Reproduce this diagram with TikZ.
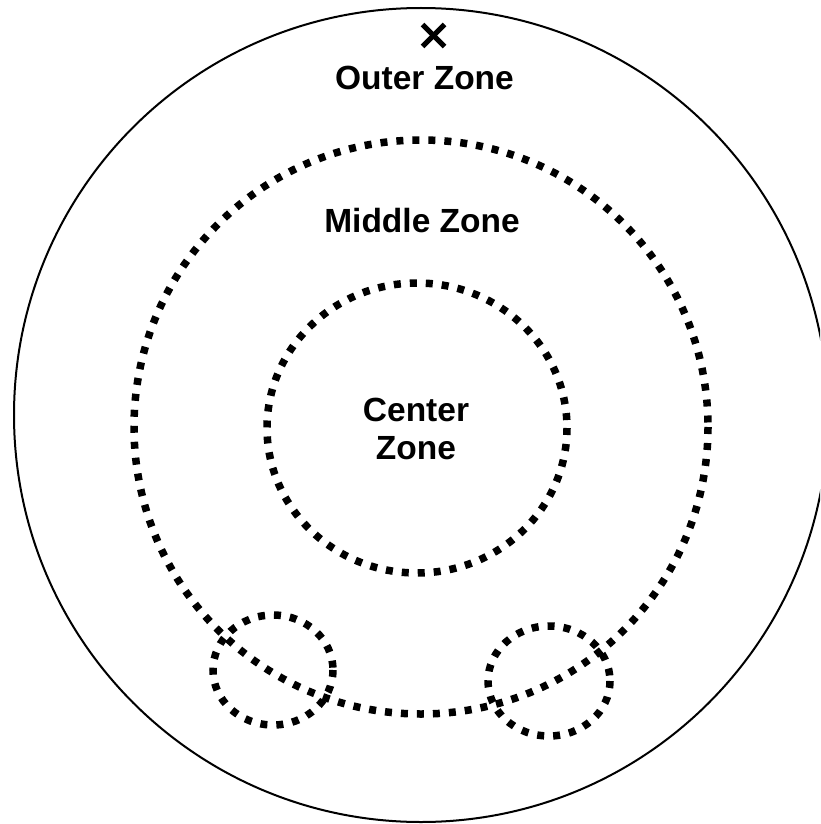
\documentclass[tikz,border=0pt]{standalone}
\usepackage{fontspec}
\setmainfont{Liberation Sans}
\begin{document}
\begin{tikzpicture}[x=1pt,y=-1pt,
  outerline/.style={line width=2pt},
  zonedots/.style={line width=7.5pt, dash pattern=on 7pt off 9pt},
  zonelabel/.style={font=\bfseries\fontsize{33.5}{38}\selectfont, inner sep=0pt, align=center},
  crossmark/.style={line width=5pt}]
\useasboundingbox (0,0) rectangle (820,824);
\clip (0,0) rectangle (820,824);
% outer zone
\draw[outerline] (421,415) circle[radius=407];
% middle zone
\draw[zonedots] (421,427) circle[radius=287];
% center zone
\draw[zonedots] (417,428) ellipse[x radius=150, y radius=145];
% small circles
\draw[zonedots] (273,670) ellipse[x radius=60, y radius=55];
\draw[zonedots] (549,681) ellipse[x radius=61, y radius=55];
% cross mark
\coordinate (x) at (433.5,35.5);
\draw[crossmark] ([shift={(-11,-11)}]x) -- ([shift={(11,11)}]x);
\draw[crossmark] ([shift={(-11,11)}]x) -- ([shift={(11,-11)}]x);
% labels
\node[zonelabel, anchor=base] (outer) at (424.5,90) {Outer Zone};
\node[zonelabel, anchor=base] (middle) at (422,232) {Middle Zone};
\node[zonelabel] (center) at (416,428.5) {Center\\Zone};
\end{tikzpicture}
\end{document}
